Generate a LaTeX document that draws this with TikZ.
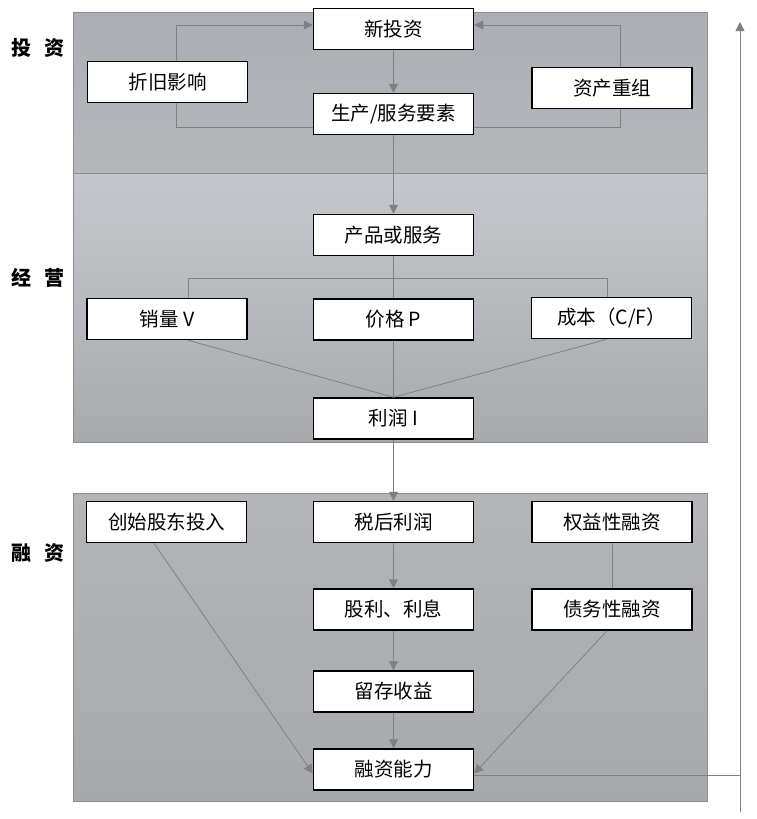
\documentclass[tikz,border=0pt]{standalone}
\usepackage{fontspec}
\setmainfont{Noto Sans CJK SC}
\usetikzlibrary{arrows.meta,calc}
\definecolor{ptop}{HTML}{ABAEB3}
\definecolor{pbot1}{HTML}{B4B7BA}
\definecolor{mtop}{HTML}{C4C7CB}
\definecolor{mbot}{HTML}{A8AAAE}
\definecolor{btop}{HTML}{B3B5B9}
\definecolor{bbot}{HTML}{A7A9AD}
\definecolor{lncol}{HTML}{7E8084}
\begin{document}
\begin{tikzpicture}[x=1pt,y=-1pt,
  box/.style={draw=black,fill=white,line width=1.5pt,minimum width=160pt,minimum height=41pt,inner sep=0pt,font=\fontsize{19.5}{22}\selectfont},
  sect/.style={font=\fontsize{20}{22}\selectfont\bfseries},
  conn/.style={draw=lncol,line width=0.8pt},
  arr/.style={conn,-{Triangle[width=9pt,length=9pt]}},
  panel/.style={draw=black!45,line width=0.6pt}]
\useasboundingbox (0,0) rectangle (756,819);
\fill[white] (0,0) rectangle (756,819);
% panels
\shade[top color=ptop,bottom color=pbot1] (73,12) rectangle (707,173);
\shade[top color=mtop,bottom color=mbot] (73,173) rectangle (707,442);
\shade[top color=btop,bottom color=bbot] (73,493) rectangle (707,801);
\draw[panel] (73,12) rectangle (707,442);
\draw[panel] (73,173) -- (707,173);
\draw[panel] (73,493) rectangle (707,801);
% section labels
\node[sect] (s1) at (38,48) {投\hspace{13pt}资};
\node[sect] (s2) at (38,278) {经\hspace{13pt}营};
\node[sect] (s3) at (38,553) {融\hspace{13pt}资};
% coordinates
\coordinate (lx) at (176,0);
\coordinate (rx) at (620,0);
\coordinate (mx1) at (188,0);
\coordinate (mx2) at (607,0);
\coordinate (bx1) at (154,0);
\coordinate (fbtop) at (740,22);
\coordinate (fbbot) at (740,812);
% boxes
\node[box] (xtz) at (393.5,29) {新投资};
\node[box] (zj) at (167.5,82) {折旧影响};
\node[box] (zc) at (612,88) {资产重组};
\node[box] (sc) at (393.5,114) {生产/服务要素};
\node[box] (cp) at (393.5,235) {产品或服务};
\node[box] (xl) at (167,319) {销量 V};
\node[box] (jg) at (393.5,319.5) {价格 P};
\node[box] (cb) at (611.5,318) {成本（C/F）};
\node[box] (lr) at (393.5,418.5) {利润 I};
\node[box] (cs) at (166.5,522) {创始股东投入};
\node[box] (sh) at (393.5,522) {税后利润};
\node[box] (qy) at (612,522) {权益性融资};
\node[box] (gl) at (393.5,609.5) {股利、利息};
\node[box] (zw) at (612,609.5) {债务性融资};
\node[box] (lc) at (393.5,691.5) {留存收益};
\node[box] (rz) at (393.5,769.5) {融资能力};
% investment connectors
\draw[arr] (zj.north -| lx) |- ($(xtz.west)+(0,-4)$);
\draw[arr] (zc.north -| rx) |- ($(xtz.east)+(0,-4)$);
\draw[conn] (zj.south -| lx) |- ($(sc.west)+(0,13)$);
\draw[conn] (zc.south -| rx) |- ($(sc.east)+(0,13)$);
\draw[arr] (xtz.south) -- (sc.north);
\draw[arr] (sc.south) -- (cp.north);
% operations connectors
\draw[conn] (cp.south) -- (jg.north);
\draw[conn] (xl.north -| mx1) -- ++(0,-19) -| (cb.north -| mx2);
\draw[conn] (xl.south -| mx1) -- (lr.north);
\draw[conn] (cb.south -| mx2) -- (lr.north);
\draw[conn] (jg.south) -- (lr.north);
\draw[arr] (lr.south) -- (sh.north);
% financing connectors
\draw[arr] (sh.south) -- (gl.north);
\draw[arr] (gl.south) -- (lc.north);
\draw[arr] (lc.south) -- (rz.north);
\draw[conn] (qy.south) -- (zw.north);
\draw[arr] (cs.south -| bx1) -- ($(rz.west)+(0,4)$);
\draw[arr] (zw.south -| mx2) -- ($(rz.east)+(0,4)$);
\coordinate (fbstart) at ($(rz.east)+(0,6)$);
\draw[conn] (fbstart) -- (fbstart -| fbbot);
\draw[arr] (fbbot) -- (fbtop);
\end{tikzpicture}
\end{document}
